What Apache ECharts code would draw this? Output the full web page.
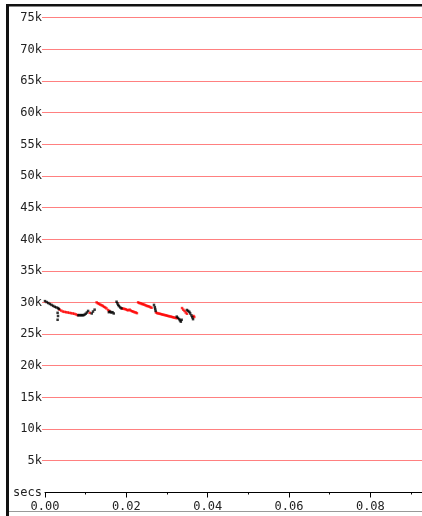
<!DOCTYPE html>
<html>
<head>
<meta charset="utf-8">
<script src="https://cdn.jsdelivr.net/npm/echarts@6/dist/echarts.min.js"></script>
<style>
html,body{margin:0;padding:0;background:#fff;}
#chart{width:422px;height:516px;}
</style>
</head>
<body>
<div id="chart"></div>
<script>
// x: seconds, y: value
var xTickLabels = ['0.00', '0.02', '0.04', '0.06', '0.08'];
var yTickValues = [5000,10000,15000,20000,25000,30000,35000,40000,45000,50000,55000,60000,65000,70000,75000];
var yTickLabels = ['5k','10k','15k','20k','25k','30k','35k','40k','45k','50k','55k','60k','65k','70k','75k'];
var axisName = 'secs';

var blackPoints = [
  [0.0000,30250],[0.0004,30100],[0.0008,29950],[0.0012,29800],[0.0016,29650],[0.0020,29500],
  [0.0024,29350],[0.0028,29250],[0.0032,29150],[0.0034,29000],
  [0.0031,28400],[0.0032,27900],[0.0031,27300],
  [0.0082,28000],[0.0085,28050],[0.0088,28000],[0.0091,28050],[0.0094,28000],[0.0097,28100],
  [0.0100,28250],[0.0103,28450],[0.0106,28700],
  [0.0115,28300],[0.0118,28600],[0.0122,28900],
  [0.0157,28500],[0.0160,28600],[0.0163,28450],[0.0166,28500],[0.0169,28300],
  [0.0176,30150],[0.0178,29900],[0.0180,29650],[0.0182,29450],[0.0185,29250],[0.0188,29100],
  [0.0268,29650],[0.0270,29300],[0.0271,29000],[0.0272,28700],
  [0.0324,27800],[0.0327,27600],[0.0330,27400],[0.0332,27200],[0.0334,27000],[0.0336,27300],
  [0.0349,28850],[0.0352,28700],[0.0355,28550],[0.0357,28300],[0.0360,28000],[0.0362,27700],[0.0364,27400]
];

var redPoints = [
  [0.0036,28900],[0.0040,28750],[0.0044,28600],[0.0048,28550],[0.0052,28500],[0.0056,28450],
  [0.0060,28400],[0.0064,28350],[0.0068,28300],[0.0072,28250],[0.0076,28150],[0.0080,28050],
  [0.0110,28400],
  [0.0127,30050],[0.0130,29900],[0.0133,29800],[0.0136,29700],[0.0139,29600],[0.0142,29500],
  [0.0145,29350],[0.0148,29250],[0.0151,29100],[0.0155,28850],[0.0158,28700],
  [0.0190,29100],[0.0193,29050],[0.0196,29000],[0.0199,28950],[0.0202,28850],[0.0205,28800],
  [0.0208,28900],[0.0211,28750],[0.0214,28650],[0.0217,28600],[0.0220,28500],[0.0223,28450],[0.0226,28350],
  [0.0229,30050],[0.0232,29950],[0.0235,29900],[0.0238,29800],[0.0241,29750],[0.0244,29700],
  [0.0247,29600],[0.0250,29500],[0.0253,29450],[0.0256,29400],[0.0259,29300],[0.0262,29200],
  [0.0273,28450],[0.0276,28350],[0.0279,28300],[0.0282,28250],[0.0285,28200],[0.0288,28150],
  [0.0291,28100],[0.0294,28050],[0.0297,28000],[0.0300,27950],[0.0303,27900],[0.0306,27850],
  [0.0309,27800],[0.0312,27750],[0.0315,27700],[0.0318,27650],[0.0321,27600],[0.0324,27550],
  [0.0337,29150],[0.0340,28900],[0.0343,28700],[0.0346,28450],[0.0349,28250],
  [0.0365,27900],[0.0367,27750]
];

var chart = echarts.init(document.getElementById('chart'), null, {renderer:'canvas'});
var monoFont = '"DejaVu Sans Mono", monospace';
var gridColor = '#ff8080';
chart.setOption({
  animation: false,
  backgroundColor: '#fff',
  grid: {left: 45, right: 0, top: 18, bottom: 23.5, containLabel: false},
  xAxis: {
    type: 'value',
    min: 0, max: 0.0927, interval: 0.02,
    axisLine: {show: true, onZero: false, lineStyle: {color: '#000', width: 1}},
    axisTick: {show: true, length: 5, lineStyle: {color: '#000'}},
    minorTick: {show: true, splitNumber: 2, length: 2, lineStyle: {color: '#000'}},
    splitLine: {show: false},
    axisLabel: {
      show: true, margin: 8, color: '#222', fontFamily: monoFont, fontSize: 12,
      showMaxLabel: false,
      formatter: function (v) {
        var i = Math.round(v / 0.02);
        return xTickLabels[i] !== undefined && Math.abs(v - i*0.02) < 1e-9 ? xTickLabels[i] : '';
      }
    }
  },
  yAxis: {
    type: 'value',
    min: 0, max: 75000, interval: 5000,
    axisLine: {show: false},
    axisTick: {show: false},
    splitLine: {show: false},
    axisLabel: {
      show: true, margin: 3, color: '#222', fontFamily: monoFont, fontSize: 12,
      showMinLabel: false,
      formatter: function (v) {
        var i = yTickValues.indexOf(v);
        return i >= 0 ? yTickLabels[i] : '';
      }
    }
  },
  series: [
    {
      type: 'custom', name: 'grid', silent: true, clip: false, z: 1,
      data: yTickValues.map(function (v) { return [0, v]; }),
      renderItem: function (params, api) {
        var y = api.coord([0, api.value(1)])[1];
        var yy = Math.floor(y) + 0.5;
        var cs = params.coordSys;
        return {
          type: 'line',
          shape: {x1: cs.x - 3, y1: yy, x2: cs.x + cs.width, y2: yy},
          style: {stroke: gridColor, lineWidth: 1}
        };
      }
    },
    {
      type: 'scatter', name: 'red', data: redPoints, z: 3,
      symbol: 'rect', symbolSize: 2.5,
      itemStyle: {color: '#ff0000'}
    },
    {
      type: 'scatter', name: 'black', data: blackPoints, z: 4,
      symbol: 'rect', symbolSize: 2.5,
      itemStyle: {color: '#000000'}
    }
  ],
  graphic: [
    {type: 'rect', shape: {x: 6, y: 4, width: 3, height: 512}, style: {fill: '#111'}},
    {type: 'rect', shape: {x: 6, y: 4, width: 416, height: 2.5}, style: {fill: '#111'}},
    {type: 'rect', shape: {x: 9, y: 511, width: 413, height: 1}, style: {fill: '#999'}},
    {type: 'text', x: 42, y: 493,
     style: {text: axisName, align: 'right', verticalAlign: 'middle', fill: '#222', font: '12px "DejaVu Sans Mono", monospace'}}
  ]
});
</script>
</body>
</html>
